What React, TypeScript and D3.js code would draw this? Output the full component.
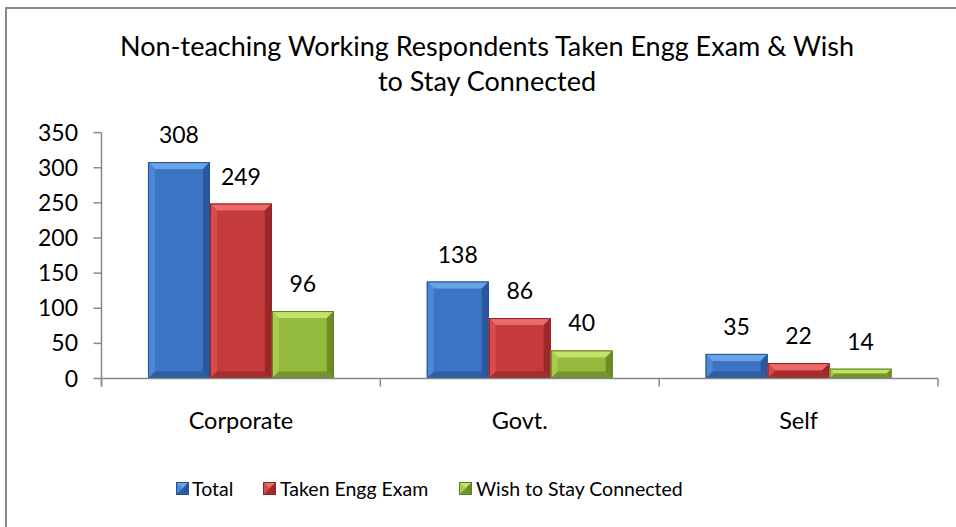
import * as d3 from "d3";

const categories = ["Corporate", "Govt.", "Self"];
const seriesNames = ["Total", "Taken Engg Exam", "Wish to Stay Connected"];
const totalValues = [308, 138, 35];
const takenValues = [249, 86, 22];
const wishValues = [96, 40, 14];
const yTicks = [0, 50, 100, 150, 200, 250, 300, 350];

const W = 956;
const H = 527;
const FONT = "Lato, 'Open Sans', sans-serif";

const palette = [
  { face: "#3b74c2", light: "#6aa3e8", mid: "#4c88d6", dark: "#24508f" },
  { face: "#c53a3b", light: "#ec6a6a", mid: "#d94b4b", dark: "#8e2424" },
  { face: "#93b93d", light: "#c3e268", mid: "#a7cc4c", dark: "#5f7d22" },
];

const seriesValues = [totalValues, takenValues, wishValues];

// bevelled Excel-like bar
const Bar = ({ x, y, w, h, c }) => {
  const b = Math.min(7, h / 2, w / 2);
  const x1 = x + w;
  const y1 = y + h;
  return (
    <g>
      <rect x={x} y={y} width={w} height={h} fill={c.face} />
      <polygon points={`${x},${y} ${x1},${y} ${x1 - b},${y + b} ${x + b},${y + b}`} fill={c.light} />
      <polygon points={`${x},${y} ${x + b},${y + b} ${x + b},${y1 - b} ${x},${y1}`} fill={c.mid} />
      <polygon points={`${x1},${y} ${x1},${y1} ${x1 - b},${y1 - b} ${x1 - b},${y + b}`} fill={c.dark} opacity={0.75} />
      <polygon points={`${x},${y1} ${x1},${y1} ${x1 - b},${y1 - b} ${x + b},${y1 - b}`} fill={c.dark} opacity={0.6} />
      <rect x={x + 0.5} y={y + 0.5} width={w - 1} height={h - 1} fill="none" stroke={c.dark} strokeWidth={1} />
    </g>
  );
};

export default function App() {
  const left = 101.5;
  const right = 938;
  const zeroY = 378.5;

  const x0 = d3.scaleBand().domain(categories).range([left, right]).paddingInner(0).paddingOuter(0);
  const groupW = x0.bandwidth() * (186 / 279);
  const x1 = d3
    .scaleBand()
    .domain(seriesNames)
    .range([0, groupW])
    .padding(0);
  const y = d3.scaleLinear().domain([0, 350]).range([zeroY, 132.6]);

  const legendItems = [
    { name: seriesNames[0], sx: 176, tx: 192 },
    { name: seriesNames[1], sx: 263, tx: 280 },
    { name: seriesNames[2], sx: 459, tx: 476 },
  ];

  return (
    <svg
      width={W}
      height={H}
      style={{ position: "fixed", left: 0, top: 0, background: "#fff" }}
      fontFamily={FONT}
    >
      <rect x={0} y={0} width={W} height={H} fill="#fff" />
      <path d={`M6,${H} V8 H${W}`} fill="none" stroke="#8a8a8a" strokeWidth={2} />

      <text x={487} y={56} textAnchor="middle" fontSize={27} fill="#000">
        Non-teaching Working Respondents Taken Engg Exam &amp; Wish
      </text>
      <text x={487} y={91} textAnchor="middle" fontSize={27} fill="#000">
        to Stay Connected
      </text>

      {/* y axis */}
      <line x1={left} x2={left} y1={y(350)} y2={zeroY + 8} stroke="#888" strokeWidth={1.5} />
      {yTicks.map((t) => (
        <g key={t}>
          <line x1={left - 8} x2={left} y1={y(t)} y2={y(t)} stroke="#888" strokeWidth={1.5} />
          <text x={78} y={y(t)} dy="0.35em" textAnchor="end" fontSize={23} fill="#000">
            {t}
          </text>
        </g>
      ))}

      {/* bars */}
      {categories.map((cat, ci) => {
        const gx = x0(cat) + (x0.bandwidth() - groupW) / 2;
        return (
          <g key={cat}>
            {seriesNames.map((s, si) => {
              const v = seriesValues[si][ci];
              const bx = gx + x1(s);
              return (
                <g key={s}>
                  <Bar x={bx} y={y(v)} w={x1.bandwidth()} h={zeroY - y(v)} c={palette[si]} />
                  <text
                    x={bx + x1.bandwidth() / 2}
                    y={y(v) - 27}
                    dy="0.35em"
                    textAnchor="middle"
                    fontSize={23}
                    fill="#000"
                  >
                    {v}
                  </text>
                </g>
              );
            })}
            <text
              x={x0(cat) + x0.bandwidth() / 2}
              y={421}
              dy="0.35em"
              textAnchor="middle"
              fontSize={23.5}
              fill="#000"
            >
              {cat}
            </text>
          </g>
        );
      })}

      {/* x axis */}
      <line x1={left} x2={right} y1={zeroY} y2={zeroY} stroke="#888" strokeWidth={1.5} />
      {[...categories.map((c) => x0(c)), right].map((tx, i) => (
        <line key={i} x1={tx} x2={tx} y1={zeroY} y2={zeroY + 8} stroke="#888" strokeWidth={1.5} />
      ))}

      {/* legend */}
      {legendItems.map((it, i) => (
        <g key={it.name}>
          <Bar x={it.sx} y={482} w={13} h={13} c={palette[i]} />
          <text x={it.tx} y={489} dy="0.35em" fontSize={19.5} fill="#000">
            {it.name}
          </text>
        </g>
      ))}
    </svg>
  );
}
